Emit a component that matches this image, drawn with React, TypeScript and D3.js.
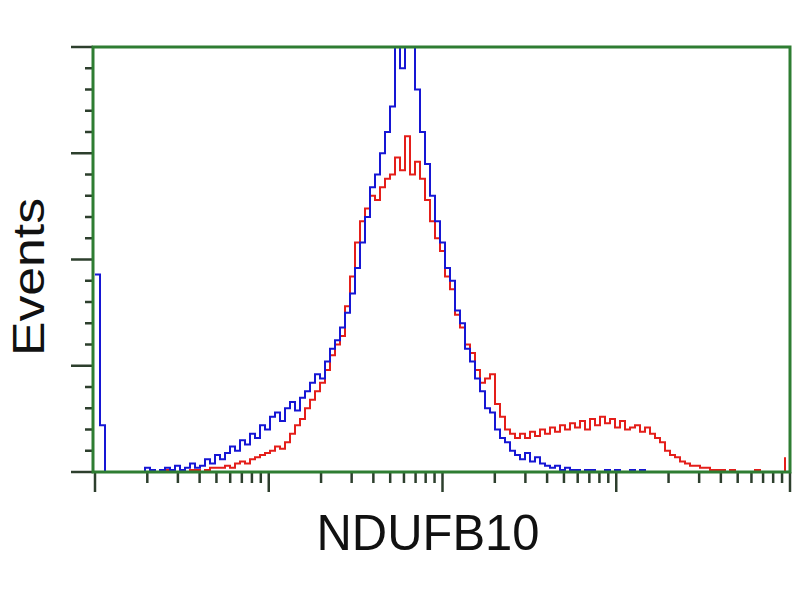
import * as d3 from 'd3';

// histogram channels, 139 bins across the 4 log decades
const blueCounts = [
  93, 22, 0, 0, 0, 0, 0, 0, 0, 0,
  2, 1, 0, 1, 2, 1, 3, 1, 2, 4,
  2, 3, 6, 4, 8, 6, 9, 12, 10, 15,
  13, 18, 16, 22, 20, 26, 28, 24, 30, 33,
  29, 35, 38, 42, 46, 44, 52, 58, 62, 68,
  75, 84, 96, 108, 120, 134, 140, 150, 160, 172,
  210, 190, 205, 200, 180, 160, 145, 130, 118, 108,
  96, 90, 76, 70, 58, 52, 44, 38, 30, 28,
  20, 16, 14, 10, 8, 6, 9, 5, 7, 4,
  3, 2, 3, 1, 2, 1, 1, 0, 1, 1,
  0, 0, 1, 0, 1, 0, 0, 1, 0, 1,
  0, 0, 0, 0, 0, 0, 0, 0, 0, 0,
  0, 0, 0, 0, 0, 0, 0, 0, 0, 0,
  0, 0, 0, 0, 0, 0, 0, 0, 0,
];

const redCounts = [
  0, 0, 0, 0, 0, 0, 0, 0, 0, 0,
  0, 0, 0, 0, 1, 1, 0, 1, 0, 1,
  1, 0, 1, 2, 2, 2, 3, 2, 4, 5,
  4, 6, 7, 8, 9, 10, 12, 11, 14, 18,
  22, 25, 30, 34, 38, 42, 48, 55, 60, 64,
  78, 92, 108, 118, 124, 130, 128, 134, 138, 140,
  148, 142, 158, 140, 146, 138, 128, 118, 110, 104,
  92, 86, 74, 68, 60, 56, 48, 42, 44, 46,
  32, 26, 20, 18, 16, 18, 16, 19, 17, 20,
  18, 21, 19, 22, 20, 23, 21, 24, 20, 25,
  22, 26, 23, 25, 21, 24, 20, 21, 22, 19,
  21, 18, 16, 14, 10, 8, 7, 5, 4, 3,
  3, 2, 2, 1, 1, 1, 0, 1, 0, 0,
  0, 0, 1, 0, 0, 0, 0, 0, 7,
];

const yMajorTicks = [0, 50, 100, 150, 200];
const xDecades = [1, 10, 100, 1000, 10000];

const frame = { left: 93, right: 790, top: 47, bottom: 472 };

export default function App() {
  const nBins = blueCounts.length;

  const chan = d3.scaleLinear().domain([0, nBins]).range([95, frame.right]);
  const x = d3.scaleLog().domain([1, 10000]).range([95, frame.right]);
  const y = d3.scaleLinear().domain([0, 200]).range([frame.bottom, frame.top]);

  const line = d3
    .line<number>()
    .x((_, i) => chan(i))
    .y((d) => y(d))
    .curve(d3.curveStepAfter);

  const yMinor = d3.range(0, 201, 10).filter((v) => !yMajorTicks.includes(v));
  const xMinor: number[] = [];
  xDecades.slice(0, -1).forEach((dec) => {
    for (let k = 2; k <= 9; k++) xMinor.push(dec * k);
  });

  const tickColor = '#2d3f2d';
  const green = '#2e7d32';

  return (
    <svg width={800} height={600} style={{ position: 'absolute', left: 0, top: 0, background: '#fff' }}>
      <defs>
        <clipPath id="plot">
          <rect x={frame.left} y={frame.top} width={frame.right - frame.left} height={frame.bottom - frame.top + 1} />
        </clipPath>
      </defs>

      {/* y ticks */}
      {yMajorTicks.map((v) => (
        <line key={'ym' + v} x1={71} x2={frame.left} y1={y(v)} y2={y(v)} stroke={tickColor} strokeWidth={2.5} />
      ))}
      {yMinor.map((v) => (
        <line key={'yn' + v} x1={85} x2={frame.left} y1={y(v)} y2={y(v)} stroke={tickColor} strokeWidth={2.5} />
      ))}

      {/* x ticks */}
      {xDecades.map((v) => (
        <line key={'xm' + v} x1={x(v)} x2={x(v)} y1={frame.bottom} y2={492} stroke={tickColor} strokeWidth={2.5} />
      ))}
      {xMinor.map((v) => (
        <line key={'xn' + v} x1={x(v)} x2={x(v)} y1={frame.bottom} y2={483} stroke={tickColor} strokeWidth={2.5} />
      ))}

      <g clipPath="url(#plot)" fill="none" strokeWidth={2} strokeLinejoin="miter">
        <path d={line(redCounts) ?? ''} stroke="#e41e1a" />
        <path d={line(blueCounts) ?? ''} stroke="#1616d4" />
      </g>

      <rect
        x={frame.left}
        y={frame.top}
        width={frame.right - frame.left}
        height={frame.bottom - frame.top}
        fill="none"
        stroke={green}
        strokeWidth={3}
      />

      <text
        transform={`translate(44, 277) rotate(-90)`}
        textAnchor="middle"
        fontFamily="Liberation Sans, Arial, sans-serif"
        fontSize={44}
        textLength={158}
        lengthAdjust="spacingAndGlyphs"
        fill="#111"
      >
        Events
      </text>
      <text
        x={428}
        y={550}
        textAnchor="middle"
        fontFamily="Liberation Sans, Arial, sans-serif"
        fontSize={50}
        textLength={223}
        lengthAdjust="spacingAndGlyphs"
        fill="#111"
      >
        NDUFB10
      </text>
    </svg>
  );
}
